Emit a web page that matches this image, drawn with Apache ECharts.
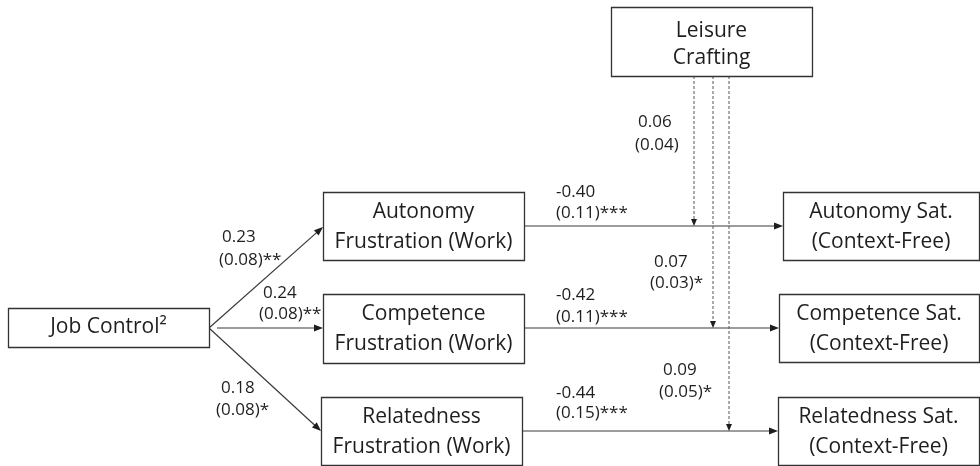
<!DOCTYPE html>
<html><head><meta charset="utf-8">
<script src="https://cdn.jsdelivr.net/npm/echarts@6/dist/echarts.min.js"></script>
<style>html,body{margin:0;padding:0;background:#fff}#c{width:980px;height:466px}</style>
</head><body><div id="c"></div>
<script>
// ---- data ----
const variables = [
  'Leisure\nCrafting',
  'Job Control\u00B2',
  'Autonomy\nFrustration (Work)',
  'Competence\nFrustration (Work)',
  'Relatedness\nFrustration (Work)',
  'Autonomy Sat.\n(Context-Free)',
  'Competence Sat.\n(Context-Free)',
  'Relatedness Sat.\n(Context-Free)'
];
const pathNames = ['JC→AF','JC→CF','JC→RF','AF→AS','CF→CS','RF→RS','LC×AF','LC×CF','LC×RF'];
const estimates = [0.23, 0.24, 0.18, -0.40, -0.42, -0.44, 0.06, 0.07, 0.09];
const stdErrors = [0.08, 0.08, 0.08, 0.11, 0.11, 0.15, 0.04, 0.03, 0.05];
const stars     = ['**', '**', '*', '***', '***', '***', '', '*', '*'];
const moderation = [false, false, false, false, false, false, true, true, true];

// ---- layout (diagram coordinates, mapped by the axes) ----
const boxLayout = [
  [611, 7, 812, 76],
  [8, 308, 209, 347],
  [323, 192, 524, 260],
  [323, 294, 524, 363],
  [321, 397, 522, 465],
  [783, 192, 979, 260],
  [779, 294, 979, 362],
  [778, 397, 979, 465]
];
const boxTextStyle = [
  {lh: 27, dy: 3},
  {lh: 30, dy: 0},
  {lh: 30, dy: 1},
  {lh: 30, dy: 1},
  {lh: 30, dy: 1},
  {lh: 30, dy: 1},
  {lh: 30, dy: 1},
  {lh: 30, dy: 1}
];
const pathLayout = [
  [[209, 328], [323, 227]],
  [[217, 328], [323, 328]],
  [[209, 328], [321, 431]],
  [[524, 226], [783, 226]],
  [[524, 328], [779, 328]],
  [[522, 431], [778, 431]],
  [[694, 76], [694, 226]],
  [[713, 76], [713, 328]],
  [[729, 76], [729, 431]]
];
const labelLayout = [
  [222, 237, 219, 260],
  [263, 293, 259, 314],
  [221, 388, 216, 410],
  [556, 192, 556, 213],
  [556, 295, 556, 317],
  [556, 393, 556, 413],
  [638, 122, 635, 145],
  [654, 262, 650, 283],
  [663, 370, 659, 392]
];

const FONT = 'Open Sans';
const TXT = '#1e1e1e';
const LINE = '#3a3a3a';

const chart = echarts.init(document.getElementById('c'), null, {renderer: 'canvas'});

function boxItem(params, api) {
  const i = api.value(0);
  const b = boxLayout[i];
  const ts = boxTextStyle[i];
  const p0 = api.coord([b[0], b[1]]);
  const p1 = api.coord([b[2], b[3]]);
  const x = Math.min(p0[0], p1[0]), y = Math.min(p0[1], p1[1]);
  const w = Math.abs(p1[0] - p0[0]), h = Math.abs(p1[1] - p0[1]);
  return {
    type: 'group',
    children: [
      {type: 'rect', shape: {x: x + 0.5, y: y + 0.5, width: w, height: h},
       style: {fill: '#fff', stroke: '#333', lineWidth: 1.3}},
      {type: 'text', style: {x: x + w / 2, y: y + h / 2 + ts.dy, text: variables[i],
        fill: TXT, font: '21px "' + FONT + '"', align: 'center', verticalAlign: 'middle', lineHeight: ts.lh}}
    ]
  };
}

function pathItem(params, api) {
  const i = api.value(0);
  const pl = pathLayout[i];
  const a = api.coord(pl[0]);
  const t = api.coord(pl[1]);
  const dx = t[0] - a[0], dy = t[1] - a[1];
  const len = Math.sqrt(dx * dx + dy * dy);
  const ux = dx / len, uy = dy / len;
  const nx = -uy, ny = ux;
  const dashed = moderation[i];
  const L = dashed ? 7 : 9, W = dashed ? 3 : 3.5;
  const bx = t[0] - ux * L, by = t[1] - uy * L;
  return {
    type: 'group',
    children: [
      {type: 'line', shape: {x1: a[0], y1: a[1], x2: bx + ux * 2, y2: by + uy * 2},
       style: {stroke: dashed ? '#555' : LINE, lineWidth: dashed ? 1 : 1.2, lineDash: dashed ? [3, 2] : null}},
      {type: 'polygon', shape: {points: [[t[0], t[1]], [bx + nx * W, by + ny * W], [bx - nx * W, by - ny * W]]},
       style: {fill: '#1e1e1e'}}
    ]
  };
}

function labelItem(params, api) {
  const i = api.value(0);
  const l = labelLayout[i];
  const e = api.coord([l[0], l[1]]);
  const s = api.coord([l[2], l[3]]);
  return {
    type: 'group',
    children: [
      {type: 'text', style: {x: e[0], y: e[1], text: estimates[i].toFixed(2), fill: TXT,
        font: '17px "' + FONT + '"', align: 'left', verticalAlign: 'middle'}},
      {type: 'text', style: {x: s[0], y: s[1], text: '(' + stdErrors[i].toFixed(2) + ')' + stars[i], fill: TXT,
        font: '17px "' + FONT + '"', align: 'left', verticalAlign: 'middle'}}
    ]
  };
}

chart.setOption({
  animation: false,
  backgroundColor: '#fff',
  grid: {left: 0, right: 0, top: 0, bottom: 0},
  xAxis: {type: 'value', min: 0, max: 980, show: false},
  yAxis: {type: 'value', min: 0, max: 466, inverse: true, show: false},
  series: [
    {type: 'custom', name: 'paths', renderItem: pathItem, data: pathNames.map((n, i) => [i]), z: 1},
    {type: 'custom', name: 'variables', renderItem: boxItem, data: variables.map((n, i) => [i]), z: 2},
    {type: 'custom', name: 'coefficients', renderItem: labelItem, data: estimates.map((n, i) => [i]), z: 3}
  ]
});
</script></body></html>
